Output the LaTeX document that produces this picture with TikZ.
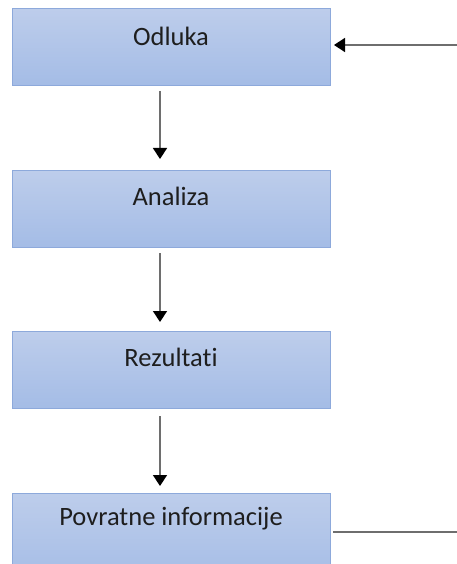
\documentclass[tikz,border=0pt]{standalone}
\usepackage{fontspec}
\setmainfont[Ligatures=NoCommon]{Carlito}
\usetikzlibrary{arrows.meta}
\definecolor{boxtop}{HTML}{BDCDEB}
\definecolor{boxbot}{HTML}{A4BCE6}
\definecolor{boxline}{HTML}{8DA9DB}
\definecolor{textcol}{HTML}{1E1E1E}
\definecolor{wirecol}{HTML}{6E6E6E}
\tikzset{
  stagebox/.style={rectangle, draw=boxline, line width=1.4pt,
    top color=boxtop, bottom color=boxbot,
    minimum width=318pt, minimum height=77pt, inner sep=0pt, anchor=north west},
  stagelabel/.style={font=\fontsize{26.5}{30}\selectfont, text=textcol, inner sep=0pt},
  flow/.style={draw=wirecol, line width=1.5pt,
    -{Triangle[length=11pt, width=14pt, fill=black, color=black]}},
  wire/.style={draw=wirecol, line width=1.5pt}
}
\begin{document}
\begin{tikzpicture}[x=1pt, y=-1pt]
  \useasboundingbox (0,0) rectangle (457,564);
  \clip (0,0) rectangle (457,564);

  % four stacked stages
  \node[stagebox] (odluka)   at (12,8)   {};
  \node[stagebox] (analiza)  at (12,170) {};
  \node[stagebox] (rezultati) at (12,331) {};
  \node[stagebox, minimum height=90pt] (povratne) at (12,493) {};

  \node[stagelabel] (t1) at (171,36)  {Odluka};
  \node[stagelabel] (t2) at (171,196) {Analiza};
  \node[stagelabel] (t3) at (171,357) {Rezultati};
  \node[stagelabel] (t4) at (171,519) {Povratne informacije};

  % downward flow
  \coordinate (a1s) at (160,91);   \coordinate (a1e) at (160,159);
  \coordinate (a2s) at (160,253);  \coordinate (a2e) at (160,322);
  \coordinate (a3s) at (160,416);  \coordinate (a3e) at (160,486);
  \draw[flow] (a1s) -- (a1e);
  \draw[flow] (a2s) -- (a2e);
  \draw[flow] (a3s) -- (a3e);

  % feedback wires on the right
  \coordinate (inR)  at (457,45);
  \coordinate (inL)  at (334,45);
  \coordinate (outL) at (333,532);
  \coordinate (outR) at (457,532);
  \draw[flow] (inR) -- (inL);
  \draw[wire] (outL) -- (outR);
\end{tikzpicture}
\end{document}
